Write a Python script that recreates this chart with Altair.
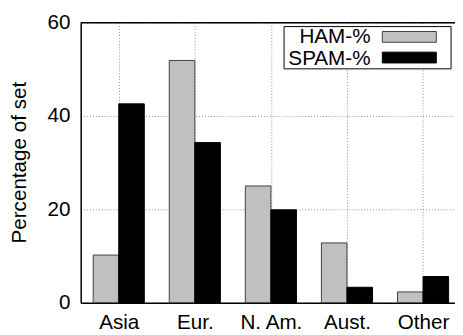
import altair as alt
import pandas as pd

regions = ["Asia", "Eur.", "N. Am.", "Aust.", "Other"]
ham_pct = [10.2, 51.9, 25.0, 12.8, 2.3]
spam_pct = [42.6, 34.3, 19.9, 3.3, 5.6]
series_names = ["HAM-%", "SPAM-%"]
series_fill = ["#c0c0c0", "#000000"]
series_stroke = ["#404040", "#000000"]
y_ticks = [0, 20, 40, 60]

rows = []
for i, r in enumerate(regions):
    rows.append({"idx": i, "region": r, "series": series_names[0], "value": ham_pct[i]})
    rows.append({"idx": i, "region": r, "series": series_names[1], "value": spam_pct[i]})
df = pd.DataFrame(rows)

BW = 0.336
W, H = 381, 285
FONT = "Liberation Sans"
FS = 21
label_expr = "[" + ",".join("'" + r + "'" for r in regions) + "][datum.value]"

xscale = alt.Scale(domain=[-0.5, 4.42], nice=False, zero=False)
yscale = alt.Scale(domain=[0, 60], nice=False)

bars = alt.Chart(df).mark_bar(strokeWidth=1).transform_calculate(
    x0=f"datum.series == '{series_names[0]}' ? datum.idx - {BW} : datum.idx",
    x1=f"datum.series == '{series_names[0]}' ? datum.idx : datum.idx + {BW}",
).encode(
    x=alt.X("x0:Q", scale=xscale,
            axis=alt.Axis(values=list(range(len(regions))), labelExpr=label_expr, title=None,
                          grid=True, gridDash=[1, 2], gridColor="#909090", gridWidth=1,
                          ticks=False, labelPadding=9, labelFontSize=FS, labelFont=FONT,
                          labelColor="black", domainColor="black", domainWidth=1.5,
                          labelOverlap=False, labelFlush=False)),
    x2="x1:Q",
    y=alt.Y("value:Q", scale=yscale,
            axis=alt.Axis(values=y_ticks, title="Percentage of set", grid=True, gridDash=[1, 2],
                          gridColor="#909090", gridWidth=1, ticks=False, labelPadding=11,
                          labelFontSize=FS, labelFont=FONT, labelColor="black",
                          domainColor="black", domainWidth=1.5,
                          titleFont=FONT, titleFontSize=FS, titleFontWeight="normal",
                          titleColor="black", titleX=-62, titleY=142, titleAngle=-90,
                          titleAlign="center", titleBaseline="middle")),
    y2=alt.datum(0),
    fill=alt.Fill("series:N", scale=alt.Scale(domain=series_names, range=series_fill), legend=None),
    stroke=alt.Stroke("series:N", scale=alt.Scale(domain=series_names, range=series_stroke), legend=None),
)

dummy = pd.DataFrame({"a": [0]})
top = alt.Chart(dummy).mark_rule(color="black", strokeWidth=1.5).encode(
    x=alt.value(0), x2=alt.value(W), y=alt.value(0))

layers = [bars, top]
box = alt.Chart(dummy).mark_rect(fill="white", stroke="black", strokeWidth=1).encode(
    x=alt.value(207), x2=alt.value(377), y=alt.value(4), y2=alt.value(47))
layers.append(box)
for k, name in enumerate(series_names):
    ty = 14.5 + 21 * k
    layers.append(alt.Chart(dummy).mark_text(align="right", baseline="middle", font=FONT,
                                             fontSize=FS, color="black").encode(
        x=alt.value(295), y=alt.value(15 + 22 * k), text=alt.value(name)))
    layers.append(alt.Chart(dummy).mark_rect(fill=series_fill[k], stroke=series_stroke[k],
                                             strokeWidth=1).encode(
        x=alt.value(307), x2=alt.value(362), y=alt.value(ty - 5.5), y2=alt.value(ty + 5.5)))

chart = alt.layer(*layers).properties(
    width=W, height=H,
    autosize=alt.AutoSizeParams(type="none"),
    padding={"left": 74, "top": 12, "right": 0, "bottom": 30},
    background="white",
).configure_view(stroke=None)

chart.save("out.html", embed_options={"renderer": "svg", "actions": False})
